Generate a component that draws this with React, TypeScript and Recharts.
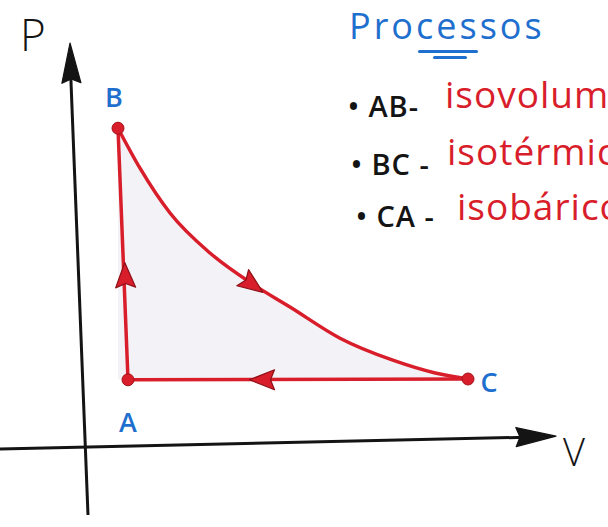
import React from 'react';
import { ComposedChart, Line, Area, Scatter, XAxis, YAxis, ReferenceLine } from 'recharts';

// corners of the cycle (V, P), origin where the axes cross
const cornerNames = ['A', 'B', 'C'];
const cornerV = [1.1, 0.85, 9.6];
const cornerP = [1.63, 7.92, 1.65];

// isothermal BC
const curveV = [0.85, 1.4, 2.15, 3.15, 4.22, 5.15, 6.4, 7.72, 8.78, 9.6];
const curveP = [7.92, 6.92, 5.8, 4.8, 4.02, 3.45, 2.67, 2.12, 1.8, 1.65];

// direction arrows on the three processes (heading in degrees, screen frame)
const arrowV = [1.03, 4.22, 4.45];
const arrowP = [4.25, 4.0, 1.63];
const arrowHeading = [-92, 36, 180];

// hand drawn axes: start and end of each stroke, then the arrow tips
const pAxisV = [0.1, -0.33];
const pAxisP = [-1.75, 9.2];
const vAxisV = [-2.1, 11.3];
const vAxisP = [-0.1, 0.2];
const axisTipV = [-0.35, 11.8];
const axisTipP = [10.05, 0.22];
const axisTipHeading = [-92, -1.3];

const processRows = [
  { label: '• AB-', name: 'isovolumétrico' },
  { label: '• BC -', name: 'isotérmico' },
  { label: '• CA -', name: 'isobárico' },
];

const RED = '#d91e2b';
const BLUE = '#1f6fce';
const INK = '#141414';

const corners = cornerNames.map((name, i) => ({ name, v: cornerV[i], p: cornerP[i] }));
const curve = curveV.map((v, i) => ({ v, p: curveP[i] }));
const lineAB = [corners[0], corners[1]];
const lineCA = [corners[2], corners[0]];
const arrows = arrowV.map((v, i) => ({ v, p: arrowP[i], heading: arrowHeading[i] }));
const axisTips = axisTipV.map((v, i) => ({ v, p: axisTipP[i], heading: axisTipHeading[i] }));

const labelOffset: Record<string, [number, number]> = {
  A: [0, 42],
  B: [-4, -32],
  C: [21, 2],
};

const Arrowhead = (props: any) => {
  const { cx, cy, payload, length, width, tip, fill, stroke } = props;
  const front = tip ? 0 : length / 2;
  const back = front - length;
  const pts = `${front},0 ${back},${width / 2} ${back + 4},0 ${back},${-width / 2}`;
  return (
    <polygon
      points={pts}
      transform={`translate(${cx},${cy}) rotate(${payload.heading})`}
      fill={fill}
      stroke={stroke}
      strokeWidth={1.2}
      strokeLinejoin="round"
    />
  );
};

const Corner = (props: any) => {
  const { cx, cy, payload } = props;
  const [dx, dy] = labelOffset[payload.name];
  return (
    <g>
      <circle cx={cx} cy={cy} r={6} fill={RED} stroke="#a5121c" strokeWidth={1} />
      <text
        x={cx + dx}
        y={cy + dy}
        textAnchor="middle"
        dominantBaseline="central"
        fill={BLUE}
        fontSize={27}
        fontWeight={600}
        fontFamily="'Open Sans', sans-serif"
      >
        {payload.name}
      </text>
    </g>
  );
};

const textBase: React.CSSProperties = {
  position: 'absolute',
  whiteSpace: 'nowrap',
  lineHeight: 1,
  fontFamily: "'Open Sans', sans-serif",
};

const rowTops = [
  { black: [348, 91], red: [445, 75] },
  { black: [351, 149], red: [447, 132] },
  { black: [356, 201], red: [457, 187] },
];

export default function App() {
  return (
    <div
      style={{
        position: 'absolute',
        left: 0,
        top: 0,
        width: 608,
        height: 527,
        overflow: 'hidden',
        background: '#fff',
      }}
    >
      <ComposedChart width={608} height={527} margin={{ top: 0, right: 0, bottom: 0, left: 0 }}>
        <XAxis type="number" dataKey="v" domain={[-2.1, 13.1]} hide allowDataOverflow />
        <YAxis type="number" domain={[-2.05, 11.125]} hide allowDataOverflow />
        <Area
          data={curve}
          dataKey="p"
          type="monotone"
          baseValue={1.64}
          stroke="none"
          fill="#f3f3f7"
          fillOpacity={1}
          isAnimationActive={false}
        />
        <ReferenceLine
          segment={[
            { x: pAxisV[0], y: pAxisP[0] },
            { x: pAxisV[1], y: pAxisP[1] },
          ]}
          stroke={INK}
          strokeWidth={3}
          ifOverflow="visible"
        />
        <ReferenceLine
          segment={[
            { x: vAxisV[0], y: vAxisP[0] },
            { x: vAxisV[1], y: vAxisP[1] },
          ]}
          stroke={INK}
          strokeWidth={3}
          ifOverflow="visible"
        />
        <Scatter
          data={axisTips}
          dataKey="p"
          isAnimationActive={false}
          shape={(p: any) => <Arrowhead {...p} length={40} width={19} tip fill={INK} stroke={INK} />}
        />
        <Line data={lineAB} dataKey="p" stroke={RED} strokeWidth={3.5} dot={false} isAnimationActive={false} />
        <Line data={curve} dataKey="p" type="monotone" stroke={RED} strokeWidth={3.5} dot={false} isAnimationActive={false} />
        <Line data={lineCA} dataKey="p" stroke={RED} strokeWidth={3.5} dot={false} isAnimationActive={false} />
        <Scatter
          data={arrows}
          dataKey="p"
          isAnimationActive={false}
          shape={(p: any) => <Arrowhead {...p} length={25} width={20} fill={RED} stroke="#8e1018" />}
        />
        <Scatter data={corners} dataKey="p" isAnimationActive={false} shape={(p: any) => <Corner {...p} />} />
      </ComposedChart>

      {/* axis names */}
      <div style={{ ...textBase, left: 20, top: 12, fontSize: 44, fontWeight: 300, color: INK }}>P</div>
      <div style={{ ...textBase, left: 563, top: 432, fontSize: 38, fontWeight: 300, color: INK }}>V</div>

      {/* title */}
      <div style={{ ...textBase, left: 349, top: 8, fontSize: 36, letterSpacing: 3, color: BLUE }}>Processos</div>
      <div style={{ position: 'absolute', left: 418, top: 50, width: 60, height: 3, background: BLUE, borderRadius: 2 }} />
      <div style={{ position: 'absolute', left: 433, top: 56, width: 34, height: 2.5, background: BLUE, borderRadius: 2 }} />

      {processRows.map((row, i) => (
        <React.Fragment key={row.label}>
          <div
            style={{
              ...textBase,
              left: rowTops[i].black[0],
              top: rowTops[i].black[1],
              fontSize: 29,
              fontWeight: 600,
              letterSpacing: 1,
              color: INK,
            }}
          >
            {row.label}
          </div>
          <div
            style={{
              ...textBase,
              left: rowTops[i].red[0],
              top: rowTops[i].red[1],
              fontSize: 37,
              letterSpacing: 1,
              color: RED,
            }}
          >
            {row.name}
          </div>
        </React.Fragment>
      ))}
    </div>
  );
}
